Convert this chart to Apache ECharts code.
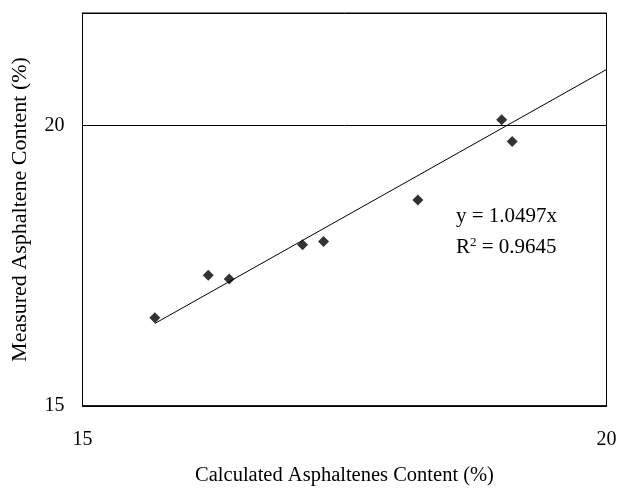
<!DOCTYPE html>
<html>
<head>
<meta charset="utf-8">
<script src="https://cdn.jsdelivr.net/npm/echarts@6/dist/echarts.min.js"></script>
<style>
  html, body { margin: 0; padding: 0; background: #fff; }
  #chart { width: 618px; height: 490px; }
</style>
</head>
<body>
<div id="chart"></div>
<script>
// Calculated vs. measured asphaltene content (%)
var calculated = [15.69, 16.20, 16.40, 17.10, 17.30, 18.20, 19.00, 19.10];
var measured   = [16.57, 17.33, 17.26, 17.87, 17.93, 18.67, 20.10, 19.71];

// Linear trend forced through the origin
var slope = 1.0497;
var rSquared = 0.9645;

var xTicks = [15, 20];
var yTicks = [15, 20];
var yMax = 22;

var points = calculated.map(function (x, i) { return [x, measured[i]]; });
var xStart = Math.min.apply(null, calculated);
var xEnd = xTicks[xTicks.length - 1];
var trend = [[xStart, slope * xStart], [xEnd, slope * xEnd]];

var font = '"Liberation Serif", "Times New Roman", serif';
var chart = echarts.init(document.getElementById('chart'));

chart.setOption({
  backgroundColor: '#ffffff',
  animation: false,
  grid: {
    left: 82.5, right: 11.5, top: 13, bottom: 84,
    outerBoundsMode: 'none',
    show: true, borderColor: '#000', borderWidth: 1, backgroundColor: 'transparent'
  },
  xAxis: {
    type: 'value',
    min: xTicks[0], max: xEnd, interval: xTicks[1] - xTicks[0],
    name: 'Calculated Asphaltenes Content (%)',
    nameLocation: 'middle', nameGap: 59,
    nameTextStyle: { fontFamily: font, fontSize: 20.5, color: '#000' },
    axisLine: { show: true, lineStyle: { color: '#000', width: 1.5 } },
    axisTick: { show: false },
    splitLine: { show: false },
    axisLabel: { margin: 24, fontFamily: font, fontSize: 20, color: '#000' }
  },
  yAxis: {
    type: 'value',
    min: yTicks[0], max: yMax, interval: yTicks[1] - yTicks[0],
    name: 'Measured Asphaltene Content (%)',
    nameLocation: 'middle', nameGap: 51,
    nameTextStyle: { fontFamily: font, fontSize: 22, color: '#000' },
    axisLine: { show: true, lineStyle: { color: '#000', width: 1 } },
    axisTick: { show: false },
    splitLine: { show: true, lineStyle: { color: '#000', width: 1 } },
    axisLabel: {
      margin: 18, fontFamily: font, fontSize: 20, color: '#000',
      formatter: function (v) { return yTicks.indexOf(v) >= 0 ? String(v) : ''; }
    }
  },
  series: [
    {
      type: 'line',
      data: trend,
      symbol: 'none',
      silent: true,
      lineStyle: { color: '#000', width: 1 },
      z: 2
    },
    {
      type: 'scatter',
      data: points,
      symbol: 'diamond',
      symbolSize: 11,
      itemStyle: { color: '#000' },
      z: 3
    }
  ],
  graphic: [
    {
      type: 'text', left: 456, top: 206,
      style: { text: 'y = ' + slope.toFixed(4) + 'x', font: '21px ' + font, fill: '#000' }
    },
    {
      type: 'text', left: 456, top: 236,
      style: {
        text: '{r|R}{s|2}{r| = ' + rSquared.toFixed(4) + '}',
        rich: {
          r: { fontFamily: font, fontSize: 21, fill: '#000', verticalAlign: 'bottom' },
          s: { fontFamily: font, fontSize: 13, fill: '#000', verticalAlign: 'top', padding: [0, 0, 9, 0] }
        }
      }
    }
  ]
});
</script>
</body>
</html>
